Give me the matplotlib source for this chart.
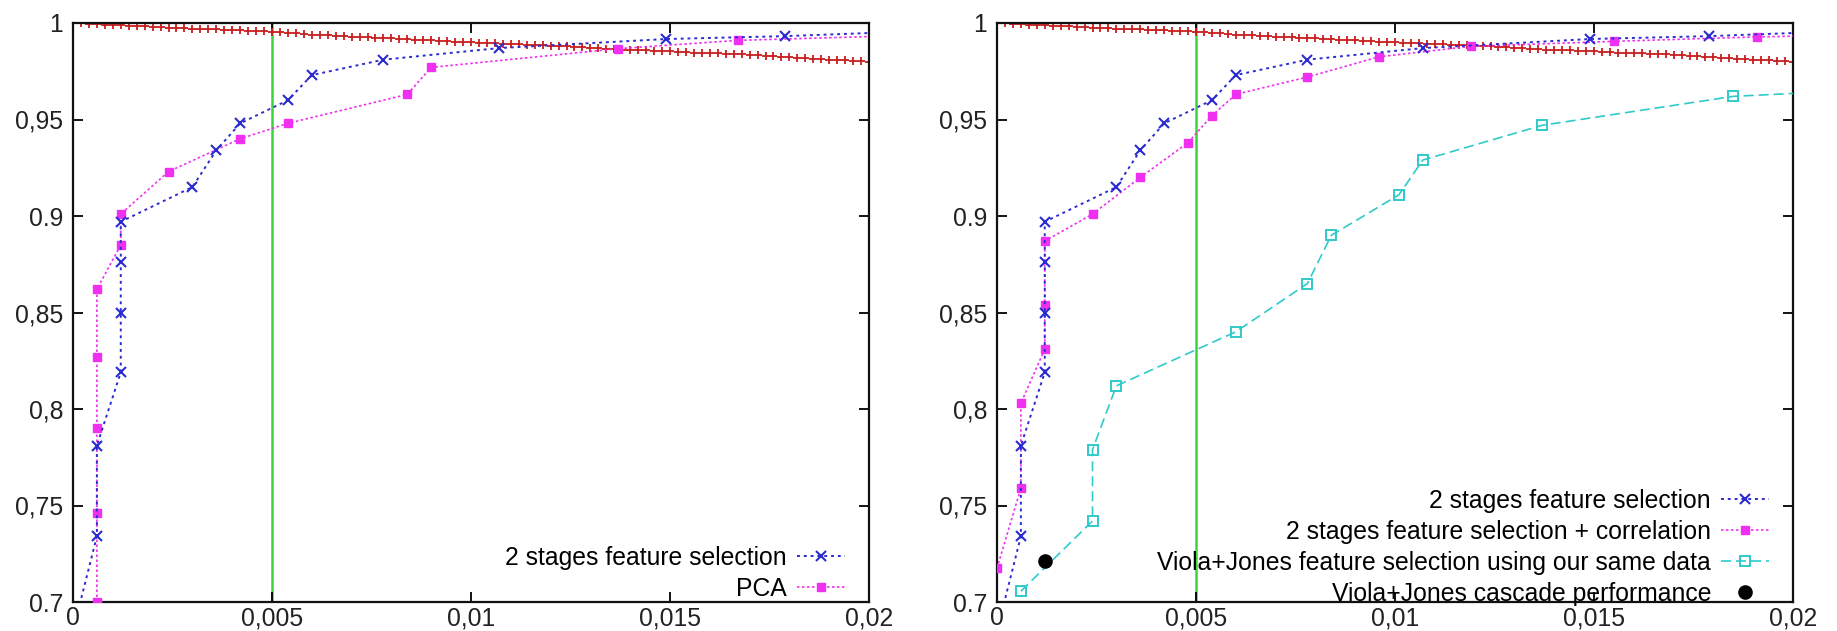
import matplotlib
matplotlib.use("Agg")
import matplotlib.pyplot as plt
from matplotlib.ticker import FixedLocator, FixedFormatter

plt.rcParams['font.family'] = ['Liberation Sans', 'DejaVu Sans']

# ---------------- data ----------------
x_ticks = [0, 0.005, 0.01, 0.015, 0.02]
x_tick_labels = ["0", "0,005", "0,01", "0,015", "0,02"]
y_ticks = [0.7, 0.75, 0.8, 0.85, 0.9, 0.95, 1.0]
y_tick_labels = ["0.7", "0,75", "0,8", "0,85", "0.9", "0,95", "1"]

threshold_x = 0.005

# 2 stages feature selection (same curve on both panels)
two_stage_x = [0.0, 0.0006, 0.0006, 0.0012, 0.0012, 0.0012, 0.0012, 0.0030, 0.0036,
               0.0042, 0.0054, 0.0060, 0.0078, 0.0107, 0.0149, 0.0179, 0.0209]
two_stage_y = [0.685, 0.734, 0.781, 0.819, 0.850, 0.876, 0.897, 0.915, 0.934,
               0.948, 0.960, 0.973, 0.981, 0.987, 0.9917, 0.9932, 0.9955]

# PCA (left panel)
pca_x = [0.0006, 0.0006, 0.0006, 0.0006, 0.0006, 0.0012, 0.0012, 0.0024, 0.0042,
         0.0054, 0.0084, 0.0090, 0.0137, 0.0167, 0.0209]
pca_y = [0.700, 0.746, 0.790, 0.827, 0.862, 0.885, 0.901, 0.923, 0.940,
         0.948, 0.963, 0.977, 0.9867, 0.991, 0.9935]

# 2 stages feature selection + correlation (right panel)
corr_x = [0.0, 0.0006, 0.0006, 0.0012, 0.0012, 0.0012, 0.0024, 0.0036, 0.0048,
          0.0054, 0.0060, 0.0078, 0.0096, 0.0119, 0.0155, 0.0191, 0.0209]
corr_y = [0.7175, 0.759, 0.803, 0.831, 0.854, 0.887, 0.901, 0.920, 0.938,
          0.952, 0.963, 0.972, 0.9825, 0.9879, 0.9905, 0.9928, 0.9935]

# Viola+Jones feature selection using our same data (right panel)
vj_x = [0.0006, 0.0024, 0.0024, 0.0030, 0.0060, 0.0078, 0.0084, 0.0101, 0.0107,
        0.0137, 0.0185, 0.0210]
vj_y = [0.7056, 0.742, 0.779, 0.812, 0.840, 0.865, 0.890, 0.911, 0.929,
        0.947, 0.962, 0.9645]

# Viola+Jones cascade performance
cascade_x = [0.0012]
cascade_y = [0.721]

# red reference curve (plus markers)
red_x = [0.0000, 0.0002, 0.0004, 0.0006, 0.0008, 0.0010, 0.0012, 0.0014, 0.0016, 0.0018,
         0.0020, 0.0022, 0.0024, 0.0026, 0.0028, 0.0030, 0.0032, 0.0034, 0.0036, 0.0038,
         0.0040, 0.0042, 0.0044, 0.0046, 0.0048, 0.0050, 0.0052, 0.0054, 0.0056, 0.0058,
         0.0060, 0.0062, 0.0064, 0.0066, 0.0068, 0.0070, 0.0072, 0.0074, 0.0076, 0.0078,
         0.0080, 0.0082, 0.0084, 0.0086, 0.0088, 0.0090, 0.0092, 0.0094, 0.0096, 0.0098,
         0.0100, 0.0102, 0.0104, 0.0106, 0.0108, 0.0110, 0.0112, 0.0114, 0.0116, 0.0118,
         0.0120, 0.0122, 0.0124, 0.0126, 0.0128, 0.0130, 0.0132, 0.0134, 0.0136, 0.0138,
         0.0140, 0.0142, 0.0144, 0.0146, 0.0148, 0.0150, 0.0152, 0.0154, 0.0156, 0.0158,
         0.0160, 0.0162, 0.0164, 0.0166, 0.0168, 0.0170, 0.0172, 0.0174, 0.0176, 0.0178,
         0.0180, 0.0182, 0.0184, 0.0186, 0.0188, 0.0190, 0.0192, 0.0194, 0.0196, 0.0198,
         0.0200]
red_y = [1.0000, 0.9998, 0.9996, 0.9994, 0.9992, 0.9990, 0.9988, 0.9986, 0.9984, 0.9982,
         0.9980, 0.9978, 0.9976, 0.9974, 0.9972, 0.9970, 0.9969, 0.9968, 0.9967, 0.9966,
         0.9965, 0.9963, 0.9961, 0.9959, 0.9957, 0.9954, 0.9952, 0.9949, 0.9946, 0.9943,
         0.9940, 0.9938, 0.9936, 0.9934, 0.9932, 0.9930, 0.9928, 0.9926, 0.9924, 0.9922,
         0.9920, 0.9918, 0.9916, 0.9914, 0.9912, 0.9910, 0.9908, 0.9906, 0.9904, 0.9902,
         0.9900, 0.9898, 0.9896, 0.9894, 0.9892, 0.9890, 0.9889, 0.9887, 0.9886, 0.9884,
         0.9883, 0.9881, 0.9879, 0.9877, 0.9874, 0.9872, 0.9870, 0.9867, 0.9865, 0.9862,
         0.9860, 0.9859, 0.9858, 0.9856, 0.9855, 0.9853, 0.9851, 0.9849, 0.9847, 0.9845,
         0.9843, 0.9842, 0.9840, 0.9839, 0.9837, 0.9835, 0.9833, 0.9831, 0.9828, 0.9826,
         0.9824, 0.9821, 0.9818, 0.9816, 0.9813, 0.9810, 0.9809, 0.9807, 0.9804, 0.9802,
         0.9800]

# ---------------- styles ----------------
BLUE = '#2b2bd0'
MAGENTA = '#f030f0'
CYAN = '#30caca'
RED = '#c81e1e'
GREEN = '#3ad43a'
FS = 17.8

W, H = 1837, 631
fig = plt.figure(figsize=(W / 100, H / 100), dpi=100)
ax1 = fig.add_axes([73 / W, 1 - 602 / H, 796 / W, 579 / H])
ax2 = fig.add_axes([997 / W, 1 - 602 / H, 796 / W, 579 / H])


def style_axes(ax):
    ax.set_xlim(0, 0.02)
    ax.set_ylim(0.7, 1.0)
    ax.xaxis.set_major_locator(FixedLocator(x_ticks))
    ax.xaxis.set_major_formatter(FixedFormatter(x_tick_labels))
    ax.yaxis.set_major_locator(FixedLocator(y_ticks))
    ax.yaxis.set_major_formatter(FixedFormatter(y_tick_labels))
    ax.tick_params(direction='in', length=7, width=1.3, labelsize=FS,
                   top=True, right=True, colors='black', labelcolor='#222222')
    ax.tick_params(axis='x', pad=3)
    ax.tick_params(axis='y', pad=7)
    for s in ax.spines.values():
        s.set_linewidth(1.6)
        s.set_color('#111111')


def common(ax):
    ax.axvline(threshold_x, color=GREEN, lw=1.8, zorder=1)
    ax.plot(red_x, red_y, linestyle='none', marker='+', ms=5.5, mew=1.3,
            color=RED, zorder=2)
    ax.plot(two_stage_x, two_stage_y, linestyle=(0, (1.5, 2.0)), lw=1.4, color=BLUE,
            marker='x', ms=7.5, mew=1.5, label='2 stages feature selection', zorder=4)


def add_legend(ax, bottom):
    ax.legend(loc='lower right', bbox_to_anchor=(0.970, bottom), frameon=False,
              markerfirst=False, fontsize=FS, handlelength=1.95, handletextpad=0.4,
              labelspacing=0.29, borderpad=0, borderaxespad=0)


style_axes(ax1)
common(ax1)
ax1.plot(pca_x, pca_y, linestyle=(0, (1.5, 1.5)), lw=1.2, color=MAGENTA,
         marker='s', ms=6, mew=1.0, mec=MAGENTA, mfc=MAGENTA, label='PCA', zorder=3)
add_legend(ax1, 0.002)

style_axes(ax2)
common(ax2)
ax2.plot(corr_x, corr_y, linestyle=(0, (1.5, 1.5)), lw=1.2, color=MAGENTA,
         marker='s', ms=6, mew=1.0, mec=MAGENTA, mfc=MAGENTA,
         label='2 stages feature selection + correlation', zorder=3)
ax2.plot(vj_x, vj_y, linestyle=(0, (6, 3)), lw=1.2, color=CYAN,
         marker='s', ms=7, mew=1.4, mfc='none', mec=CYAN,
         label='Viola+Jones feature selection using our same data', zorder=3)
ax2.plot(cascade_x, cascade_y, linestyle='none', marker='o', ms=9.5, color='black',
         label='Viola+Jones cascade performance', zorder=5)
add_legend(ax2, -0.007)

fig.savefig('out.png', dpi=100)
